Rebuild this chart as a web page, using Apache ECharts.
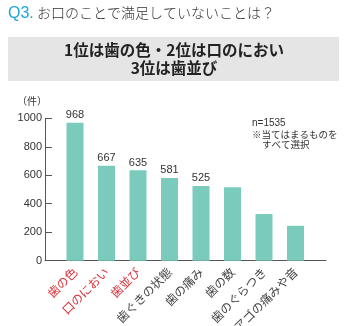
<!DOCTYPE html>
<html>
<head>
<meta charset="utf-8">
<style>
  html, body { margin: 0; padding: 0; background: #fff; }
  #chart { width: 350px; height: 326px; }
</style>
<script src="https://cdn.jsdelivr.net/npm/echarts@6/dist/echarts.min.js"></script>
</head>
<body>
<div id="chart"></div>
<script>
// Dissatisfaction items about the mouth (multiple answers, n=1535)
const categories = ['歯の色', '口のにおい', '歯並び', '歯ぐきの状態', '歯の痛み', '歯の数', '歯のぐらつき', 'アゴの痛みや音'];
const counts = [968, 667, 635, 581, 525, 515, 328, 245];
const labeledCount = 5;            // bars that carry a value label
const highlightedCount = 3;        // top-ranked categories shown in red
const yTicks = { min: 0, max: 1000, interval: 200 };

const FONT = '"Liberation Sans", "Noto Sans CJK JP", sans-serif';
const CJK = '"Noto Sans CJK JP", sans-serif';

const chart = echarts.init(document.getElementById('chart'), null, { renderer: 'canvas' });

const plotTop = 118.3;
const plotBottom = 65.3;

chart.setOption({
  animation: false,
  backgroundColor: '#ffffff',
  graphic: [
    {
      type: 'text', left: 8, top: 6,
      style: { text: 'Q3.', font: '300 16px ' + FONT, fill: '#1ea5df' }
    },
    {
      type: 'text', left: 37, top: 6,
      style: { text: 'お口のことで満足していないことは？', font: '300 14px ' + CJK, fill: '#333333' }
    },
    {
      type: 'rect', shape: { x: 8, y: 37, width: 331, height: 44 },
      style: { fill: '#e5e5e5' }
    },
    {
      type: 'text', x: 174, y: 50,
      style: { text: '1位は歯の色・2位は口のにおい', font: 'bold 15.5px ' + CJK, fill: '#222222', align: 'center', verticalAlign: 'middle' }
    },
    {
      type: 'text', x: 174, y: 68,
      style: { text: '3位は歯並び', font: 'bold 15.5px ' + CJK, fill: '#222222', align: 'center', verticalAlign: 'middle' }
    },
    {
      type: 'text', x: 252, y: 123.5,
      style: { text: 'n=1535', font: '10px ' + FONT, fill: '#333333', verticalAlign: 'middle' }
    },
    {
      type: 'text', x: 252, y: 134,
      style: { text: '※当てはまるものを', font: '9.5px ' + CJK, fill: '#333333', verticalAlign: 'middle' }
    },
    {
      type: 'text', x: 262, y: 144,
      style: { text: 'すべて選択', font: '9.5px ' + CJK, fill: '#333333', verticalAlign: 'middle' }
    }
  ],
  grid: [
    // axis frame (wider than the bar band)
    { left: 45, right: 24, top: plotTop, bottom: plotBottom, containLabel: false, outerBoundsMode: 'none' },
    // bar band
    { left: 59.25, right: 38.75, top: plotTop, bottom: plotBottom, containLabel: false, outerBoundsMode: 'none' }
  ],
  xAxis: [
    {
      type: 'value', gridIndex: 0, min: 0, max: 1,
      axisLine: { show: true, lineStyle: { color: '#555555', width: 1 } },
      axisTick: { show: false }, axisLabel: { show: false }, splitLine: { show: false }
    },
    {
      type: 'category', gridIndex: 1, data: categories,
      axisLine: { show: false }, axisTick: { show: false },
      axisLabel: {
        interval: 0, rotate: 45, margin: 9,
        fontSize: 12, fontFamily: CJK,
        color: (value, index) => index < highlightedCount ? '#d8333b' : '#444444'
      }
    }
  ],
  yAxis: [
    {
      type: 'value', gridIndex: 0,
      min: yTicks.min, max: yTicks.max, interval: yTicks.interval,
      name: '（件）', nameLocation: 'end', nameGap: 12,
      nameTextStyle: { fontSize: 10, fontFamily: CJK, color: '#333333', align: 'right', padding: [0, -2, 0, 0] },
      axisLine: { show: true, lineStyle: { color: '#555555', width: 1 } },
      axisTick: { show: true, inside: true, length: 7, lineStyle: { color: '#555555' } },
      axisLabel: { fontSize: 11, fontFamily: FONT, color: '#333333', margin: 3, formatter: v => String(v) },
      splitLine: { show: false }
    },
    {
      type: 'value', gridIndex: 1,
      min: yTicks.min, max: yTicks.max, interval: yTicks.interval,
      show: false, splitLine: { show: false }
    }
  ],
  series: [
    {
      type: 'bar', xAxisIndex: 1, yAxisIndex: 1,
      barWidth: 17,
      itemStyle: { color: '#7acbbc' },
      label: {
        position: 'top', distance: 2,
        fontSize: 11, fontFamily: FONT, color: '#333333'
      },
      data: counts.map((v, i) => ({ value: v, label: { show: i < labeledCount } }))
    }
  ]
});
</script>
</body>
</html>
